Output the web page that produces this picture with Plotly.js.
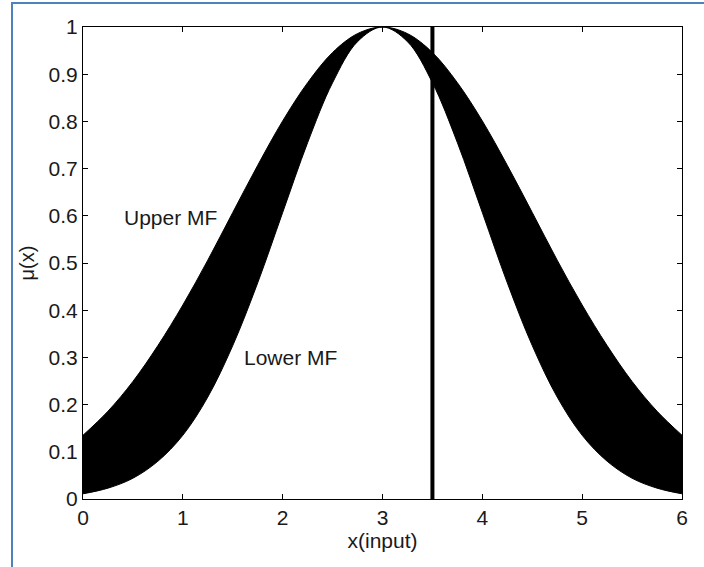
<!DOCTYPE html>
<html>
<head>
<meta charset="utf-8">
<script src="https://cdn.plot.ly/plotly-3.0.1.min.js"></script>
<style>
html,body{margin:0;padding:0;background:#fff;}
#wrap{position:relative;width:704px;height:567px;overflow:hidden;}
#chart{position:absolute;left:0;top:0;width:704px;height:567px;}
#frame{position:absolute;left:11px;top:2px;width:720px;height:600px;border-left:2px solid #4F81BD;border-top:2px solid #4F81BD;pointer-events:none;}
</style>
</head>
<body>
<div id="wrap"><div id="chart"></div><div id="frame"></div></div>
<script>
// x positions (input)
const xVals = [0,0.25,0.5,0.75,1,1.25,1.5,1.75,2,2.25,2.5,2.75,3,3.25,3.5,3.75,4,4.25,4.5,4.75,5,5.25,5.5,5.75,6];
// Upper membership function values
const upperMF = [0.135,0.186,0.249,0.325,0.411,0.506,0.607,0.707,0.801,0.882,0.946,0.986,1.0,0.986,0.946,0.882,0.801,0.707,0.607,0.506,0.411,0.325,0.249,0.186,0.135];
// Lower membership function values
const lowerMF = [0.011,0.023,0.044,0.080,0.135,0.216,0.325,0.458,0.607,0.755,0.882,0.969,1.0,0.969,0.882,0.755,0.607,0.458,0.325,0.216,0.135,0.080,0.044,0.023,0.011];
// vertical input line
const inputX = [3.5,3.5];
const inputY = [0,1];
const xTicks = [0,1,2,3,4,5,6];
const yTicks = [0,0.1,0.2,0.3,0.4,0.5,0.6,0.7,0.8,0.9,1];
const yTickText = ['0','0.1','0.2','0.3','0.4','0.5','0.6','0.7','0.8','0.9','1'];

const traces = [
  {x:xVals, y:upperMF, mode:'lines', line:{color:'#000', width:1, shape:'spline'}, hoverinfo:'skip'},
  {x:xVals, y:lowerMF, mode:'lines', line:{color:'#000', width:1, shape:'spline'}, fill:'tonexty', fillcolor:'#000', hoverinfo:'skip'},
  {x:inputX, y:inputY, mode:'lines', line:{color:'#000', width:4}, hoverinfo:'skip'}
];
const fam = 'Liberation Sans, Arial, sans-serif';
const font = {family:fam, size:21, color:'#1a1a1a'};
const layout = {
  width:704, height:567,
  margin:{l:83, r:22, t:27, b:68},
  paper_bgcolor:'#fff', plot_bgcolor:'#fff',
  showlegend:false,
  font:font,
  xaxis:{range:[0,6], tickvals:xTicks, ticks:'inside', ticklen:5, tickcolor:'#000',
    showline:true, linecolor:'#000', linewidth:1, mirror:'ticks', showgrid:false, zeroline:false,
    tickfont:font, automargin:false, title:{text:'x(input)', font:{family:fam, size:21, color:'#1a1a1a'}, standoff:2}},
  yaxis:{range:[0,1], tickvals:yTicks, ticktext:yTickText, ticks:'inside', ticklen:5, tickcolor:'#000',
    showline:true, linecolor:'#000', linewidth:1, mirror:'ticks', showgrid:false, zeroline:false,
    tickfont:font, automargin:false, title:{text:'μ(x)', font:{family:fam, size:20, color:'#1a1a1a'}, standoff:8}},
  annotations:[
    {x:0.88, y:0.597, xref:'x', yref:'y', text:'Upper MF', showarrow:false, font:{family:fam, size:21, color:'#1a1a1a'}},
    {x:2.08, y:0.299, xref:'x', yref:'y', text:'Lower MF', showarrow:false, font:{family:fam, size:21, color:'#1a1a1a'}}
  ]
};
Plotly.newPlot('chart', traces, layout, {displayModeBar:false, staticPlot:true});
</script>
</body>
</html>
